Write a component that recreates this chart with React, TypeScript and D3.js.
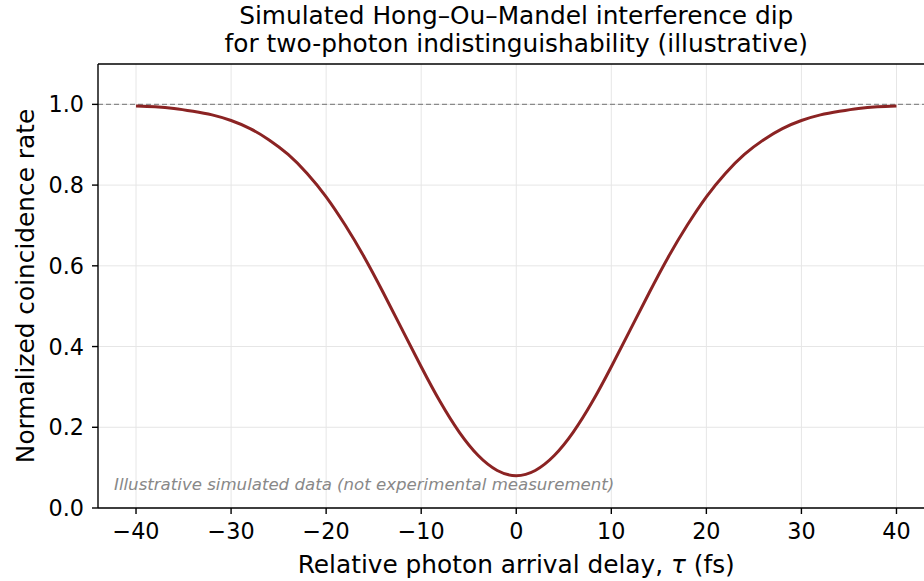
import React from "react";
import * as d3 from "d3";

const delays = [-40,-38,-36,-34,-32,-30,-28,-26,-24,-22,-20,-18,-16,-14,-12,-10,-8,-6,-4,-2,0,2,4,6,8,10,12,14,16,18,20,22,24,26,28,30,32,34,36,38,40];
const rates = [0.996,0.994,0.990,0.983,0.974,0.960,0.940,0.912,0.876,0.829,0.771,0.701,0.622,0.534,0.442,0.350,0.263,0.188,0.130,0.093,0.080,0.093,0.130,0.188,0.263,0.350,0.442,0.534,0.622,0.701,0.771,0.829,0.876,0.912,0.940,0.960,0.974,0.983,0.990,0.994,0.996];
const xTicks = [-40,-30,-20,-10,0,10,20,30,40];
const yTicks = [0.0,0.2,0.4,0.6,0.8,1.0];
const titleLines = ["Simulated Hong\u2013Ou\u2013Mandel interference dip","for two-photon indistinguishability (illustrative)"];

export default function App() {
  const W = 924, H = 581;
  const left = 98, top = 64, bottom = 508;
  const x = d3.scaleLinear().domain([-44, 44]).range([left, 934.5]);
  const y = d3.scaleLinear().domain([0, 1.1]).range([bottom, top]);
  const right = x(44);
  const pts = delays.map((d, i) => [d, rates[i]] as [number, number]);
  const line = d3.line<[number, number]>().x(d => x(d[0])).y(d => y(d[1])).curve(d3.curveNatural);
  const font = "DejaVu Sans, sans-serif";
  const cx = (left + right) / 2;
  return (
    <div style={{ position: "fixed", left: 0, top: 0 }}>
      <svg width={W} height={H} style={{ display: "block", background: "#fff" }} fontFamily={font}>
        <defs>
          <clipPath id="plot"><rect x={left} y={top} width={right - left} height={bottom - top} /></clipPath>
        </defs>
        {xTicks.map(t => <line key={"gx" + t} x1={x(t)} x2={x(t)} y1={top} y2={bottom} stroke="#e6e6e6" strokeWidth={1} />)}
        {yTicks.map(t => <line key={"gy" + t} x1={left} x2={right} y1={y(t)} y2={y(t)} stroke="#e6e6e6" strokeWidth={1} />)}
        <line x1={left} x2={right} y1={y(1)} y2={y(1)} stroke="#8a8a8a" strokeWidth={1.3} strokeDasharray="5,3" />
        <path d={line(pts) || ""} fill="none" stroke="#8b2323" strokeWidth={3} clipPath="url(#plot)" />
        <text x={114} y={490} fontSize={16.6} fontStyle="italic" fill="#888">Illustrative simulated data (not experimental measurement)</text>
        <line x1={left} x2={right} y1={top} y2={top} stroke="#000" strokeWidth={1.4} />
        <line x1={left} x2={left} y1={top} y2={bottom} stroke="#000" strokeWidth={1.4} />
        <line x1={left} x2={right} y1={bottom} y2={bottom} stroke="#000" strokeWidth={1.4} />
        {xTicks.map(t => (
          <g key={"xt" + t}>
            <line x1={x(t)} x2={x(t)} y1={bottom} y2={bottom + 6} stroke="#000" strokeWidth={1.4} />
            <text x={x(t)} y={539} fontSize={22.3} textAnchor="middle" fill="#000">{t < 0 ? "\u2212" + Math.abs(t) : String(t)}</text>
          </g>
        ))}
        {yTicks.map(t => (
          <g key={"yt" + t}>
            <line x1={left - 6} x2={left} y1={y(t)} y2={y(t)} stroke="#000" strokeWidth={1.4} />
            <text x={84} y={y(t) + 8} fontSize={22.3} textAnchor="end" fill="#000">{t.toFixed(1)}</text>
          </g>
        ))}
        <text x={cx} y={573} fontSize={24.8} textAnchor="middle" fill="#000">Relative photon arrival delay, <tspan fontStyle="italic">τ</tspan> (fs)</text>
        <text transform={`translate(34,${(top + bottom) / 2}) rotate(-90)`} fontSize={24.8} textAnchor="middle" fill="#000">Normalized coincidence rate</text>
        {titleLines.map((s, i) => (
          <text key={i} x={cx} y={24 + i * 28} fontSize={24.8} textAnchor="middle" fill="#000">{s}</text>
        ))}
      </svg>
    </div>
  );
}
